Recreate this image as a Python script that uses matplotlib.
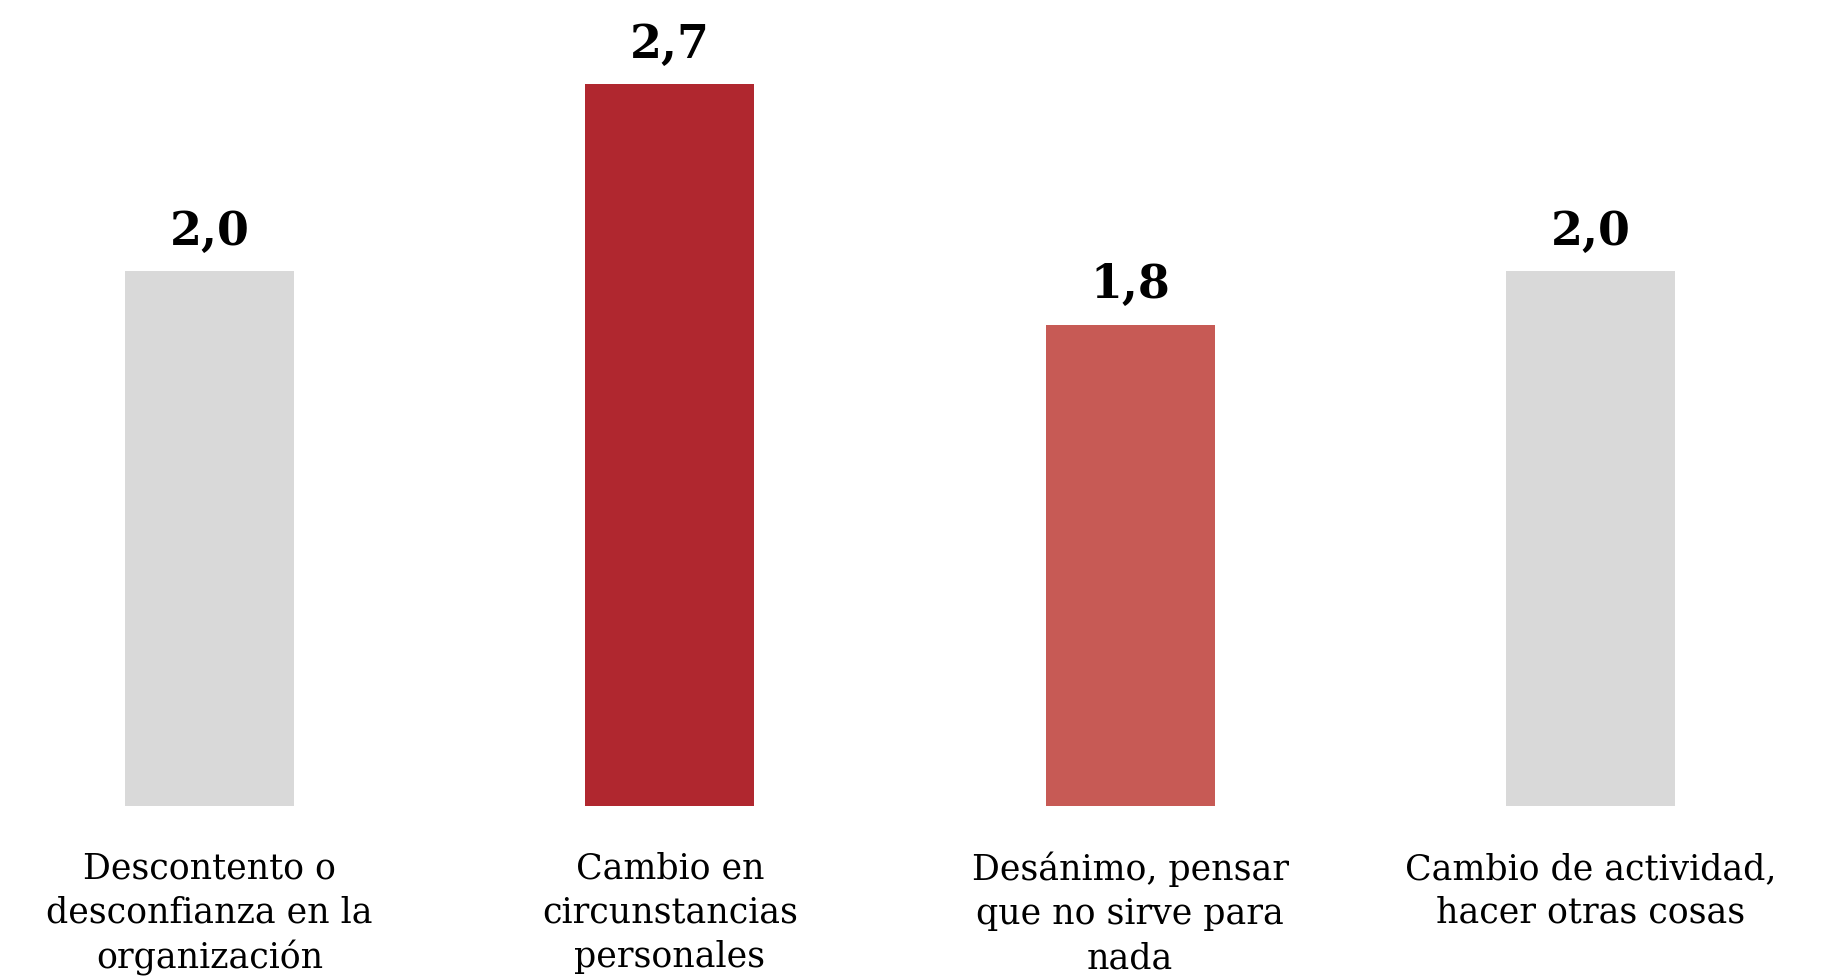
import matplotlib.pyplot as plt
from matplotlib import font_manager

# Data
categories = [
    "Descontento o\ndesconfianza en la\norganización",
    "Cambio en\ncircunstancias\npersonales",
    "Desánimo, pensar\nque no sirve para\nnada",
    "Cambio de actividad,\nhacer otras cosas",
]
values = [2.0, 2.7, 1.8, 2.0]
labels = ["2,0", "2,7", "1,8", "2,0"]
colors = ["#d9d9d9", "#b0272f", "#c75a55", "#d9d9d9"]

names = {f.name for f in font_manager.fontManager.ttflist}
serif = "DejaVu Serif Condensed" if "DejaVu Serif Condensed" in names else "DejaVu Serif"

fig = plt.figure(figsize=(18.34, 9.76), dpi=100)
ax = fig.add_axes([0, 0.1742, 1, 0.8217])

x = list(range(len(values)))
ax.bar(x, values, width=0.367, color=colors)

for xi, v, lab in zip(x, values, labels):
    ax.annotate(lab, (xi, v), xytext=(0, 12), textcoords="offset points",
                ha="center", va="bottom", fontsize=33, fontweight="bold",
                family=serif, color="black")

for xi, cat in zip(x, categories):
    ax.annotate(cat, (xi, 0), xytext=(0, -33), textcoords="offset points",
                ha="center", va="top", fontsize=25, family=serif,
                linespacing=1.37, color="black", annotation_clip=False)

ax.set_xlim(-0.455, 3.529)
ax.set_ylim(0, 3.0)
ax.axis("off")

fig.savefig("out.png", dpi=100)
